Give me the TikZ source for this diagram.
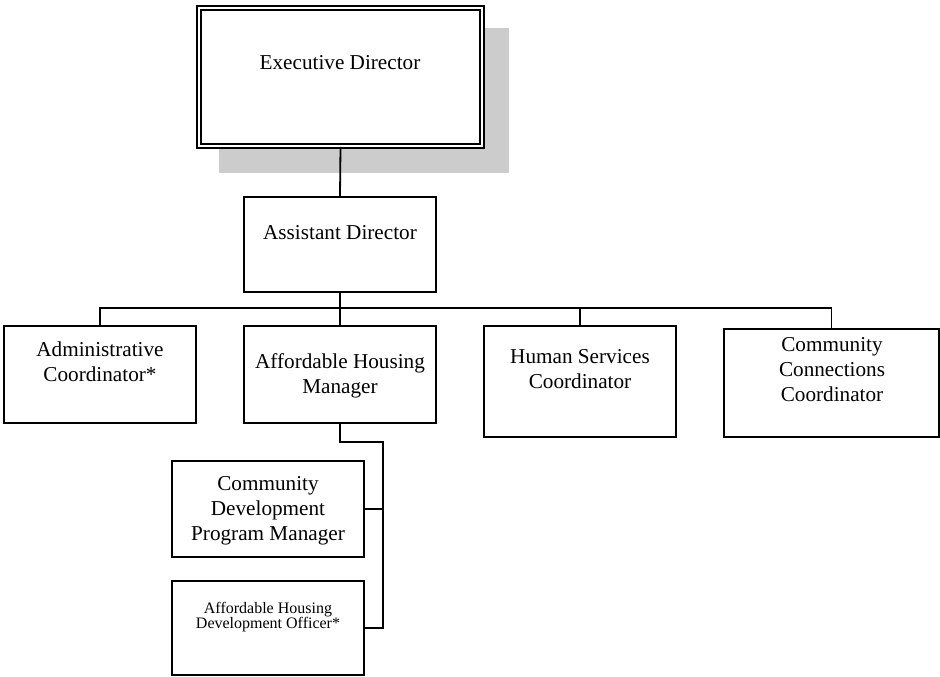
\documentclass[tikz,border=0pt]{standalone}
\usepackage{fontspec}
\setmainfont{Liberation Serif}
\usepackage{tikz}
\usetikzlibrary{calc,positioning}

\begin{document}
\begin{tikzpicture}[
  x=1pt, y=-1pt,
  box/.style={draw, line width=1.8pt, rectangle, inner sep=0pt},
  topbox/.style={draw, line width=1.8pt, double, double distance=2pt, fill=white, inner sep=0pt},
  shade/.style={fill=black!20, draw=none},
  lbl/.style={align=center, font=\fontsize{21.2}{25}\selectfont, inner sep=0pt},
  smalllbl/.style={align=center, font=\fontsize{16}{15.5}\selectfont, inner sep=0pt},
  link/.style={line width=1.8pt}
]
\useasboundingbox (0,0) rectangle (940,677);

% top of the chart
\fill[shade] (219,28) rectangle (509,173);
\node[topbox, minimum width=283pt, minimum height=138pt] (exec) at (340.5,77) {};
\node[lbl] (exec-t) at (340,63) {Executive Director};

\node[box, minimum width=192pt, minimum height=95pt] (asst) at (340,244.5) {};
\node[lbl] (asst-t) at (340,233) {Assistant Director};

% second row
\node[box, minimum width=192pt, minimum height=97pt] (admin) at (100,374.5) {};
\node[lbl] (admin-t) at (100,362) {Administrative\\Coordinator*};
\node[box, minimum width=192pt, minimum height=97pt] (ahmgr) at (340,374.5) {};
\node[lbl] (ahmgr-t) at (340,376) {Affordable Housing\\Manager};
\node[box, minimum width=192pt, minimum height=111pt] (hsc) at (580,381.5) {};
\node[lbl] (hsc-t) at (580,369) {Human Services\\Coordinator};
\node[box, minimum width=215pt, minimum height=108pt] (ccc) at (831.5,383) {};
\node[lbl] (ccc-t) at (832,370) {Community\\Connections\\Coordinator};

% under the housing manager
\node[box, minimum width=192pt, minimum height=96pt] (cdpm) at (268,509) {};
\node[lbl] (cdpm-t) at (268,511) {Community\\Development\\Program Manager};
\node[box, minimum width=192pt, minimum height=94pt] (ahdo) at (268,628) {};
\node[smalllbl] (ahdo-t) at (268,617) {Affordable Housing\\Development Officer*};

\coordinate (bus) at (340,308);
\draw[link] (exec.south) -- (asst.north);
\draw[link] (asst.south) -- (ahmgr.north);
\draw[link] (admin.north) |- (bus) -| (ccc.north);
\draw[link] (hsc.north) -- (hsc.north |- bus);

\draw[link] (ahmgr.south) -- ++(0,18) -| ($(ahdo.east)+(18,0)$) -- (ahdo.east);
\draw[link] (cdpm.east) -- ++(18,0);
\end{tikzpicture}
\end{document}
